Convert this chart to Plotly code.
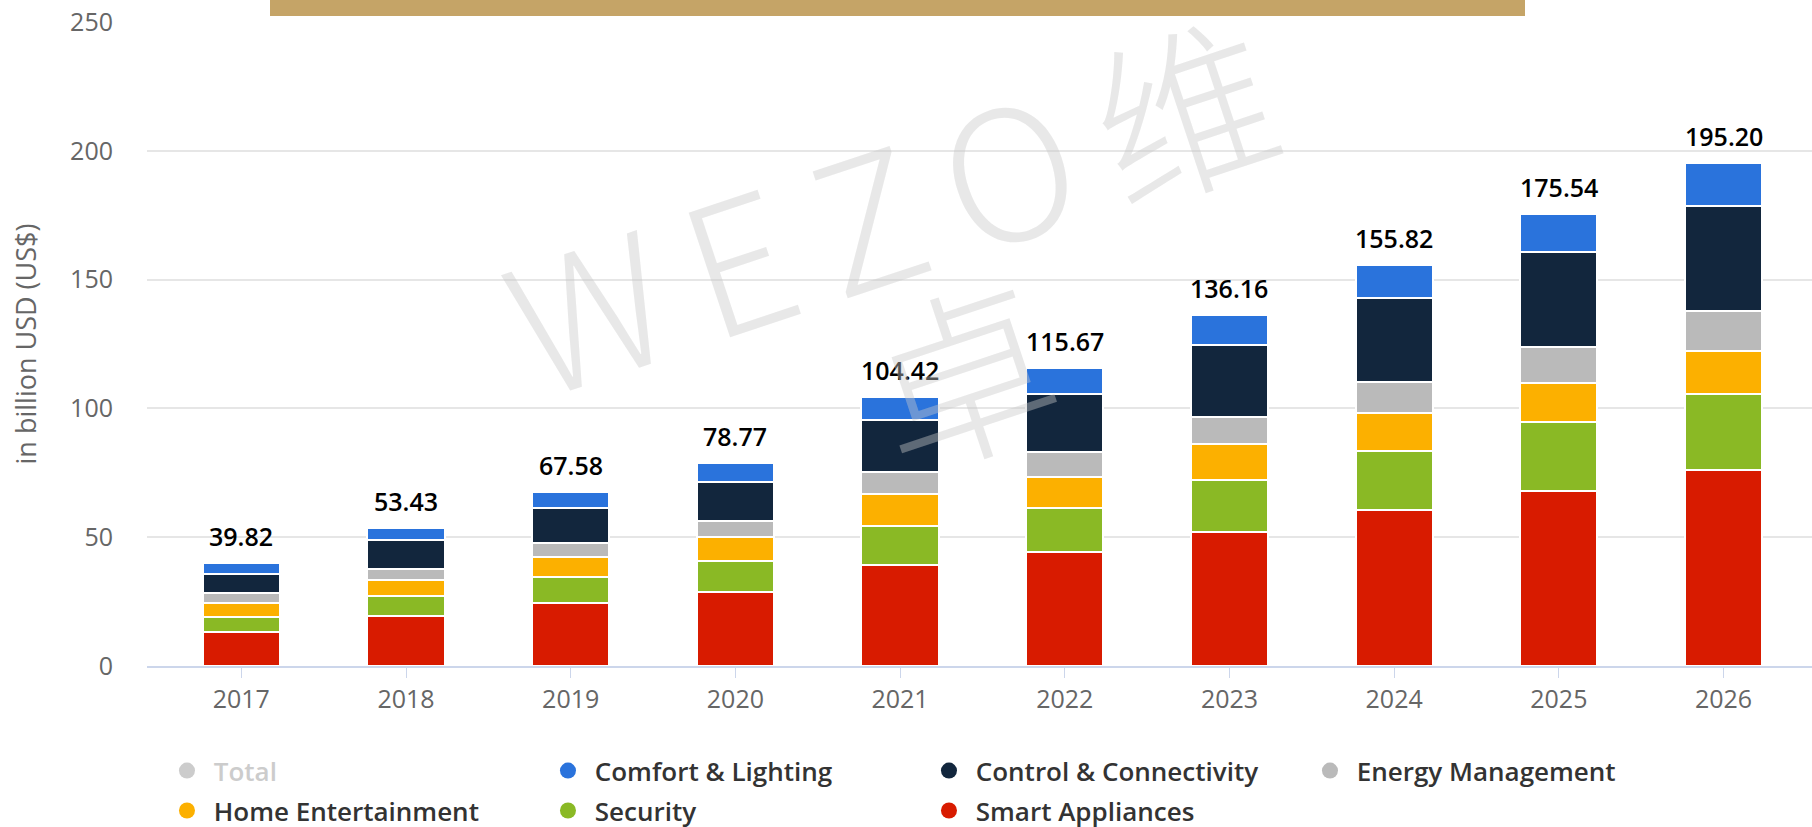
import plotly.graph_objects as go

years = ["2017", "2018", "2019", "2020", "2021", "2022", "2023", "2024", "2025", "2026"]
totals = [39.82, 53.43, 67.58, 78.77, 104.42, 115.67, 136.16, 155.82, 175.54, 195.20]

smart_appliances = [13.3, 19.3, 24.5, 28.9, 39.1, 44.3, 52.0, 60.4, 68.0, 75.9]
security = [5.9, 7.7, 10.1, 11.7, 15.4, 17.1, 20.4, 23.0, 26.7, 29.7]
home_entertainment = [5.3, 6.2, 7.7, 9.6, 12.1, 11.9, 13.6, 14.8, 15.3, 16.6]
energy_management = [3.9, 4.6, 5.3, 6.0, 8.7, 9.6, 10.6, 12.1, 13.9, 15.5]
control_connectivity = [7.4, 11.3, 13.7, 15.4, 20.2, 22.8, 28.2, 32.5, 36.7, 40.8]
comfort_lighting = [4.02, 4.33, 6.28, 7.17, 8.92, 9.97, 11.36, 13.02, 14.94, 16.70]

series = [
    ("Smart Appliances", smart_appliances, "#d81b00"),
    ("Security", security, "#8ab925"),
    ("Home Entertainment", home_entertainment, "#fcb000"),
    ("Energy Management", energy_management, "#bababa"),
    ("Control & Connectivity", control_connectivity, "#12263d"),
    ("Comfort & Lighting", comfort_lighting, "#2a73dc"),
]

FONT = "Open Sans"
fig = go.Figure()

for name, vals, color in series:
    fig.add_trace(go.Bar(
        x=years, y=vals, name=name, marker=dict(color=color, line=dict(color="white", width=2)),
        showlegend=False, legendgroup=name,
    ))

# Legend entries (circle symbols)
row1 = [("<span style='color:#cccccc'>Total</span>", "#cccccc", "Total"),
        ("Comfort & Lighting", "#2a73dc", "Comfort & Lighting"),
        ("Control & Connectivity", "#12263d", "Control & Connectivity"),
        ("Energy Management", "#bababa", "Energy Management")]
row2 = [("Home Entertainment", "#fcb000", "Home Entertainment"),
        ("Security", "#8ab925", "Security"),
        ("Smart Appliances", "#d81b00", "Smart Appliances")]
for legname, rows in (("legend", row1), ("legend2", row2)):
    for i, (label, color, grp) in enumerate(rows):
        fig.add_trace(go.Scatter(x=[None], y=[None], mode="markers", name="&nbsp;" + label,
                                 marker=dict(color=color, size=20, symbol="circle"),
                                 legend=legname, legendrank=i, legendgroup=grp))

annotations = []
for i, (yr, tot) in enumerate(zip(years, totals)):
    annotations.append(dict(x=i, y=tot, text=f"{tot:.2f}", showarrow=False, xref="x", yref="y",
                            yanchor="bottom", yshift=8,
                            font=dict(family=FONT, size=25, color="#000000", weight=600)))

# watermark
wm_color = "rgba(200,200,200,0.42)"
sp = "\u2006"
annotations.append(dict(x=0.446, y=0.722, xref="paper", yref="paper", text=sp.join(["W", "E", "Z", "O", "维"]),
                        showarrow=False, textangle=-18.4, xanchor="center", yanchor="middle",
                        font=dict(family="Noto Sans CJK SC", size=180, color=wm_color, weight=300)))
annotations.append(dict(x=0.488, y=0.463, xref="paper", yref="paper", text="卓",
                        showarrow=False, textangle=-18.4, xanchor="center", yanchor="middle",
                        font=dict(family="Noto Sans CJK SC", size=185, color=wm_color, weight=300)))

legend_common = dict(orientation="h", xanchor="left", yanchor="top", entrywidth=336,
                     font=dict(family=FONT, size=26, color="#333333", weight=600),
                     bgcolor="rgba(0,0,0,0)", itemclick=False, itemdoubleclick=False)

fig.update_layout(
    width=1812, height=827,
    margin=dict(l=147, r=0, t=22, b=161, pad=0, autoexpand=False),
    paper_bgcolor="white", plot_bgcolor="white",
    barmode="stack", bargap=0.531,
    font=dict(family=FONT, color="#666666", size=25),
    annotations=annotations,
    shapes=[dict(type="rect", xref="paper", yref="paper", x0=(270 - 147) / 1665, x1=(1525 - 147) / 1665,
                 y0=(666 - 16) / 644, y1=(666 + 4) / 644, fillcolor="#c5a467", line=dict(width=0), layer="above")],
    xaxis=dict(type="category", range=[-0.5726, 9.537], showgrid=False, zeroline=False,
               showline=True, linecolor="#ccd6eb", linewidth=2,
               ticks="outside", ticklen=10, tickcolor="#ccd6eb", tickwidth=1,
               tickfont=dict(family=FONT, size=25, color="#666666"), ticklabelstandoff=0,
               fixedrange=True),
    yaxis=dict(range=[0, 250], dtick=50, tick0=0, showgrid=True, gridcolor="#e6e6e6", gridwidth=2,
               zeroline=False, showline=False, ticks="",
               tickfont=dict(family=FONT, size=25, color="#666666"), ticklabelstandoff=33,
               title=dict(text="in billion USD (US$)", font=dict(family=FONT, size=27, color="#666666"), standoff=25),
               automargin=False, fixedrange=True),
    legend=dict(x=0.0120, y=-0.126, **legend_common),
    legend2=dict(x=0.0120, y=-0.188, **legend_common),
)

fig.write_html("out.html", config={"displayModeBar": False},
               post_script="document.body.style.margin='0px';document.body.style.padding='0px';")
